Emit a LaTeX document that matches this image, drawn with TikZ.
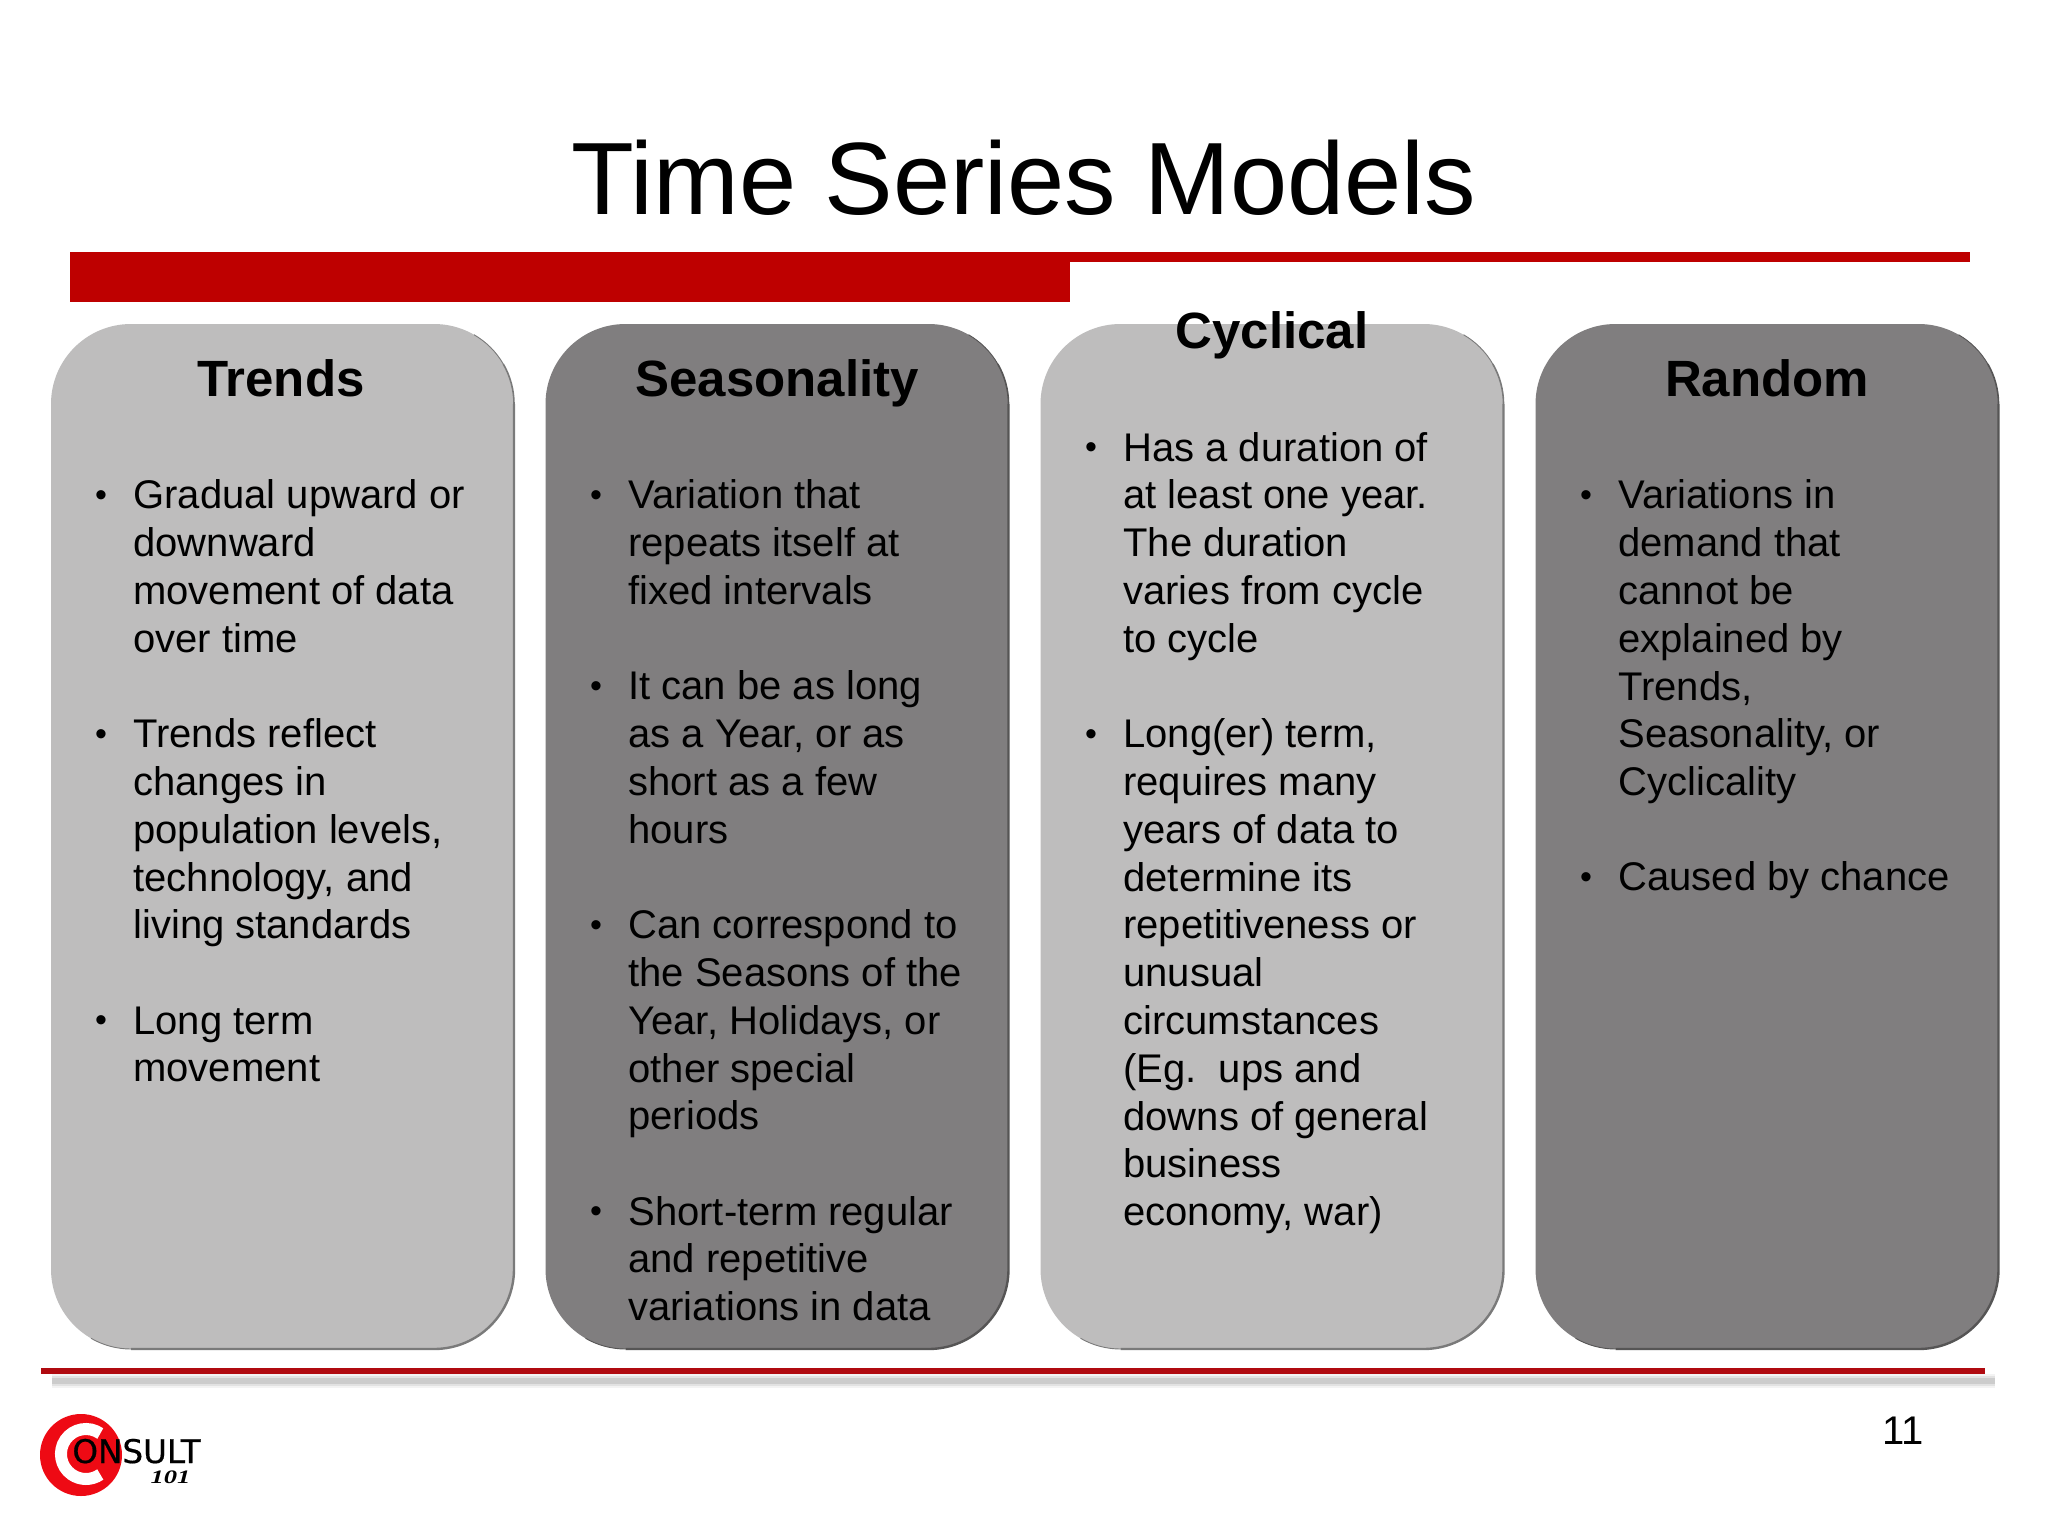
\documentclass[tikz,border=0pt]{standalone}
\usepackage{fontspec}
\setmainfont{Liberation Sans}
\newfontfamily\logofont[FakeBold=0.5]{DejaVu Sans}
\newfontfamily\logoserif{Liberation Serif}
\definecolor{barred}{HTML}{BE0000}
\definecolor{linered}{HTML}{B00A10}
\definecolor{logored}{HTML}{EE0A14}
\definecolor{lightcard}{HTML}{BEBDBD}
\definecolor{lightedge}{HTML}{7A7A7A}
\definecolor{darkcard}{HTML}{807E7F}
\definecolor{darkedge}{HTML}{565555}
\tikzset{
  x=0.5pt,y=-0.5pt,
  cardbox/.style={rectangle,rounded corners=40pt,inner sep=0pt,outer sep=0pt,minimum width=231.5pt,minimum height=512.5pt},
  cardedge/.style={line width=1.2pt},
  cardmid/.style={line width=0.8pt},
  cardhair/.style={line width=0.45pt},
  headtext/.style={anchor=base,inner sep=0pt,font=\fontsize{25.5}{30}\selectfont\bfseries},
  bodytext/.style={anchor=north west,inner sep=0pt,align=left,font=\fontsize{20}{23.9}\selectfont},
  bulletmark/.style={anchor=north,inner sep=0pt,font=\fontsize{17}{23.9}\selectfont},
}
\newcommand{\cardat}[4]{% name, cx, fill, edge
  \node[cardbox,fill=#3] (#1) at (#2,836.5) {};
  \draw[cardhair,#4] ([xshift=-40pt,yshift=-40pt]#1.north east) ++(60:40pt) arc[start angle=60,end angle=30,radius=40pt];
  \draw[cardmid,#4] ([xshift=-40pt,yshift=-40pt]#1.north east) ++(30:40pt) arc[start angle=30,end angle=0,radius=40pt];
  \draw[cardhair,#4] ([xshift=40pt]#1.south west) arc[start angle=270,end angle=240,radius=40pt];
  \draw[cardedge,#4] ([yshift=-40pt]#1.north east) -- ([yshift=40pt]#1.south east) arc[start angle=0,end angle=-90,radius=40pt] -- ([xshift=40pt]#1.south west);
}
% name, card left, line index, text
\newcommand{\bulletitem}[4]{%
  \node[bulletmark] (#1b) at ({#2+50},{475+47.75*(#3)}) {\strut\raisebox{1.2pt}{•}};
  \node[bodytext] (#1t) at ({#2+82},{475+47.75*(#3)}) {\strut #4};
}
\begin{document}
\begin{tikzpicture}
\useasboundingbox (0,0) rectangle (2048,1536);
\fill[white] (0,0) rectangle (2048,1536);
% title
\node[anchor=base,inner sep=0pt,font=\fontsize{51.4}{60}\selectfont] (title) at (1024,214) {Time Series Models};
% top bars
\fill[barred] (70,252) rectangle (1970,262);
\fill[barred] (70,252) rectangle (1070,302);
% cards
\cardat{c1}{282.5}{lightcard}{lightedge}
\cardat{c2}{777}{darkcard}{darkedge}
\cardat{c3}{1272}{lightcard}{lightedge}
\cardat{c4}{1767}{darkcard}{darkedge}
% headings
\node[headtext] (h1) at (281,396) {Trends};
\node[headtext] (h2) at (777,396) {Seasonality};
\node[headtext] (h3) at (1272,348) {Cyclical};
\node[headtext] (h4) at (1767,396) {Random};
% Trends
\bulletitem{a1}{51}{0}{Gradual upward or\\downward\\movement of data\\over time}
\bulletitem{a2}{51}{5}{Trends reflect\\changes in\\population levels,\\technology, and\\living standards}
\bulletitem{a3}{51}{11}{Long term\\movement}
% Seasonality
\bulletitem{b1}{546}{0}{Variation that\\repeats itself at\\fixed intervals}
\bulletitem{b2}{546}{4}{It can be as long\\as a Year, or as\\short as a few\\hours}
\bulletitem{b3}{546}{9}{Can correspond to\\the Seasons of the\\Year, Holidays, or\\other special\\periods}
\bulletitem{b4}{546}{15}{Short-term regular\\and repetitive\\variations in data}
% Cyclical
\bulletitem{d1}{1041}{-1}{Has a duration of\\at least one year.\\The duration\\varies from cycle\\to cycle}
\bulletitem{d2}{1041}{5}{Long(er) term,\\requires many\\years of data to\\determine its\\repetitiveness or\\unusual\\circumstances\\(Eg.\ \ ups and\\downs of general\\business\\economy, war)}
% Random
\bulletitem{e1}{1536}{0}{Variations in\\demand that\\cannot be\\explained by\\Trends,\\Seasonality, or\\Cyclicality}
\bulletitem{e2}{1536}{8}{Caused by chance}
% bottom rule with soft shadow
\foreach \w/\o in {7/0.1,5/0.16,3/0.25}{
  \draw[line width=\w pt,black!45,opacity=\o] (52,1381) -- (1995,1381);
}
\fill[linered] (41,1368) rectangle (1985,1374);
% page number
\node[anchor=base,inner sep=0pt,font=\fontsize{20}{24}\selectfont] (page) at (1903,1444) {11};
% logo
\fill[logored] (81,1455) circle[radius=41];
\draw[white,line width=6pt] (100.3,1433.5) arc[start angle=-55,end angle=-305,radius=25];
\node[anchor=base west,inner sep=0pt,font=\logofont\fontsize{16.3}{18}\selectfont] (logo) at (72,1463) {ONSULT};
\node[anchor=base west,inner sep=0pt,xscale=1.4,font=\logoserif\itshape\bfseries\fontsize{9.5}{11}\selectfont] (logonum) at (150,1483) {101};
\end{tikzpicture}
\end{document}
